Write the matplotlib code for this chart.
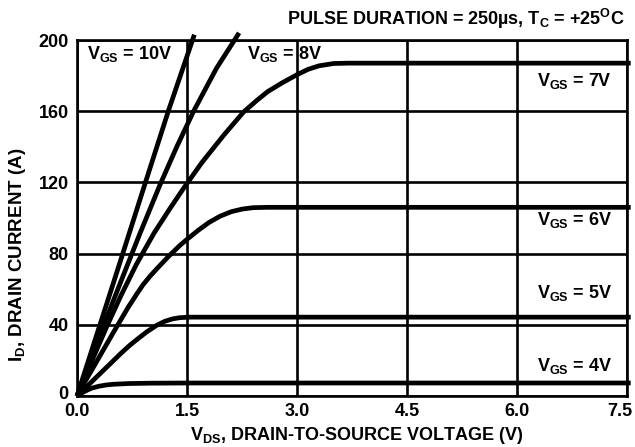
import numpy as np
import matplotlib
matplotlib.use('Agg')
import matplotlib.pyplot as plt
import matplotlib.transforms as mtransforms

plt.rcParams['font.family'] = ['Liberation Sans', 'DejaVu Sans']
plt.rcParams['font.weight'] = 'bold'
plt.rcParams['mathtext.fontset'] = 'custom'
plt.rcParams['mathtext.rm'] = 'Liberation Sans:bold'
plt.rcParams['mathtext.it'] = 'Liberation Sans:bold'
plt.rcParams['mathtext.bf'] = 'Liberation Sans:bold'

# curves (VDS in V, ID in A)
vds_4 = [0, 0.05, 0.1, 0.15, 0.2, 0.3, 0.4, 0.5, 0.7, 1.0, 1.5, 7.55]
id_4 = [0, 1.3, 2.5, 3.5, 4.4, 5.5, 6.2, 6.6, 7.0, 7.2, 7.3, 7.3]

vds_5 = [0, 0.15, 0.3, 0.45, 0.6, 0.72, 0.81, 0.95, 1.09, 1.2, 1.3, 1.4, 1.55, 7.55]
id_5 = [0, 6, 12, 18, 24, 28.5, 31.5, 36, 39.8, 42, 43.3, 44, 44.3, 44.3]

vds_6 = [0, 0.1, 0.2, 0.36, 0.5, 0.6, 0.7, 0.81, 0.9, 1.0, 1.1, 1.25, 1.4, 1.5,
         1.65, 1.8, 1.95, 2.1, 2.25, 2.4, 2.6, 7.55]
id_6 = [0, 7.5, 14.5, 26, 36, 43, 50, 57, 62.5, 67.5, 72, 78.5, 84.5, 88,
        93, 97.5, 101, 103.5, 105, 105.8, 106, 106]

vds_7 = [0, 0.2, 0.4, 0.6, 0.81, 1.05, 1.27, 1.45, 1.7, 2.0, 2.27, 2.45, 2.6,
         2.8, 3.0, 3.15, 3.3, 3.5, 3.7, 7.55]
id_7 = [0, 19.5, 38.5, 56.5, 74, 91.5, 105.5, 116.5, 131, 146.5, 159.5, 166, 171,
        176, 180.5, 183.5, 185.5, 186.8, 187, 187]

vds_8 = [0, 0.3, 0.59, 0.86, 1.13, 1.36, 1.59, 1.9, 2.21]
id_8 = [0, 33, 63.5, 91.5, 118.5, 140, 160, 184, 204]

vds_10 = [0, 0.5, 0.93, 1.25, 1.6]
id_10 = [0, 64, 119.6, 160.7, 203]

x_ticks = [0.0, 1.5, 3.0, 4.5, 6.0, 7.5]
y_ticks = [0, 40, 80, 120, 160, 200]

fig = plt.figure(figsize=(6.35, 4.47), dpi=100)
ax = fig.add_axes([0.1213, 0.1141, 0.8661, 0.7964])

for v, i in [(vds_4, id_4), (vds_5, id_5), (vds_6, id_6),
             (vds_7, id_7), (vds_8, id_8), (vds_10, id_10)]:
    ax.plot(v, i, color='black', lw=3.4, solid_capstyle='butt',
            solid_joinstyle='round', clip_on=False, zorder=3)

ax.set_xlim(0, 7.5)
ax.set_ylim(0, 200)
ax.set_xticks(x_ticks)
ax.set_xticklabels(['%.1f' % t for t in x_ticks])
ax.set_yticks(y_ticks)
ax.grid(True, color='black', lw=1.9)
ax.tick_params(length=0, labelsize=13)
ax.tick_params(axis='x', pad=5)
ax.tick_params(axis='y', pad=6)
for s in ax.spines.values():
    s.set_linewidth(1.9)

# last x tick label sits a little left of its gridline, "0" a little up
last = ax.get_xticklabels()[-1]
last.set_transform(last.get_transform() +
                   mtransforms.ScaledTranslation(-0.07, 0, fig.dpi_scale_trans))
zero = ax.get_yticklabels()[0]
zero.set_transform(zero.get_transform() +
                   mtransforms.ScaledTranslation(0, 0.03, fig.dpi_scale_trans))

lab = dict(fontsize=13, fontweight='bold', va='center', ha='left')
ax.text(0.14, 192, r'V$_\mathrm{GS}$ = 10V', **lab)
ax.text(2.32, 192, r'V$_\mathrm{GS}$ = 8V', **lab)
ax.text(6.27, 177, r'V$_\mathrm{GS}$ = 7V', **lab)
ax.text(6.27, 99, r'V$_\mathrm{GS}$ = 6V', **lab)
ax.text(6.27, 58, r'V$_\mathrm{GS}$ = 5V', **lab)
ax.text(6.27, 17, r'V$_\mathrm{GS}$ = 4V', **lab)

fig.text(0.984, 0.957, r'PULSE DURATION = 250µs, T$_\mathrm{C}$ = +25$^\mathrm{O}$C',
         fontsize=13, fontweight='bold', ha='right', va='center')
fig.text(0.562, 0.026, r'V$_\mathrm{DS}$, DRAIN-TO-SOURCE VOLTAGE (V)',
         fontsize=13, fontweight='bold', ha='center', va='center')
fig.text(0.027, 0.43, r'I$_\mathrm{D}$, DRAIN CURRENT (A)',
         fontsize=13.5, fontweight='bold', ha='center', va='center', rotation=90)

fig.savefig('out.png', dpi=100)
